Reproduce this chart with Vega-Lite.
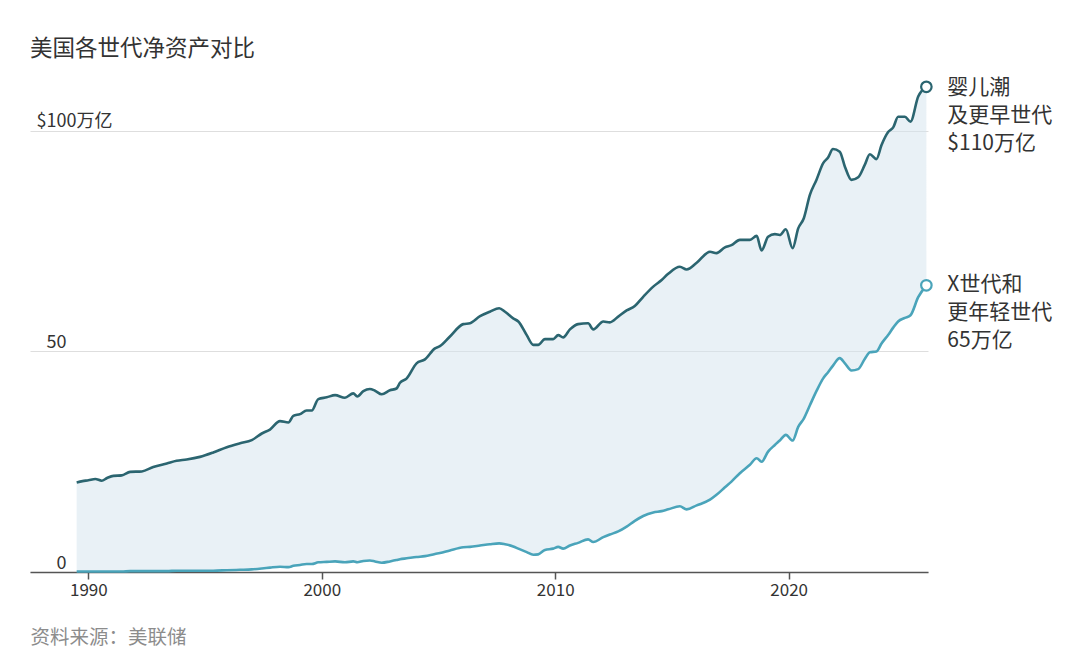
{
  "$schema": "https://vega.github.io/schema/vega-lite/v6.json",
  "autosize": {"type": "none"},
  "width": 898,
  "height": 494,
  "padding": {"left": 30, "top": 78, "right": 152, "bottom": 93},
  "background": "#ffffff",
  "config": {
    "font": "Noto Sans CJK SC",
    "view": {"stroke": null}
  },
  "title": {
    "text": "美国各世代净资产对比",
    "anchor": "start",
    "frame": "group",
    "fontSize": 22.5,
    "fontWeight": "normal",
    "color": "#333333",
    "offset": 16
  },
  "data": {
    "values": [
      {"t": 1989.5, "boomer": 20.3, "genx": 0.1},
      {"t": 1989.75, "boomer": 20.6, "genx": 0.1},
      {"t": 1990.0, "boomer": 20.8, "genx": 0.1},
      {"t": 1990.3, "boomer": 21.1, "genx": 0.1},
      {"t": 1990.57, "boomer": 20.7, "genx": 0.1},
      {"t": 1990.8, "boomer": 21.3, "genx": 0.1},
      {"t": 1991.07, "boomer": 21.8, "genx": 0.1},
      {"t": 1991.43, "boomer": 21.9, "genx": 0.1},
      {"t": 1991.79, "boomer": 22.7, "genx": 0.2},
      {"t": 1992.29, "boomer": 22.8, "genx": 0.2},
      {"t": 1992.78, "boomer": 23.8, "genx": 0.2},
      {"t": 1993.36, "boomer": 24.6, "genx": 0.2},
      {"t": 1993.78, "boomer": 25.2, "genx": 0.3},
      {"t": 1994.21, "boomer": 25.5, "genx": 0.3},
      {"t": 1994.78, "boomer": 26.1, "genx": 0.3},
      {"t": 1995.35, "boomer": 27.1, "genx": 0.3},
      {"t": 1995.93, "boomer": 28.3, "genx": 0.4},
      {"t": 1996.5, "boomer": 29.2, "genx": 0.5},
      {"t": 1997.0, "boomer": 29.9, "genx": 0.6},
      {"t": 1997.43, "boomer": 31.4, "genx": 0.8},
      {"t": 1997.78, "boomer": 32.3, "genx": 1.0},
      {"t": 1998.21, "boomer": 34.2, "genx": 1.2},
      {"t": 1998.57, "boomer": 33.9, "genx": 1.1},
      {"t": 1998.78, "boomer": 35.4, "genx": 1.4},
      {"t": 1999.07, "boomer": 35.8, "genx": 1.6},
      {"t": 1999.35, "boomer": 36.6, "genx": 1.8},
      {"t": 1999.57, "boomer": 36.6, "genx": 1.8},
      {"t": 1999.85, "boomer": 39.2, "genx": 2.2},
      {"t": 2000.21, "boomer": 39.6, "genx": 2.3},
      {"t": 2000.57, "boomer": 40.1, "genx": 2.4},
      {"t": 2000.99, "boomer": 39.5, "genx": 2.2},
      {"t": 2001.35, "boomer": 40.5, "genx": 2.4},
      {"t": 2001.52, "boomer": 39.8, "genx": 2.2},
      {"t": 2001.78, "boomer": 41.0, "genx": 2.5},
      {"t": 2002.06, "boomer": 41.5, "genx": 2.6},
      {"t": 2002.28, "boomer": 41.1, "genx": 2.4},
      {"t": 2002.57, "boomer": 40.3, "genx": 2.1},
      {"t": 2002.92, "boomer": 41.2, "genx": 2.4},
      {"t": 2003.2, "boomer": 41.6, "genx": 2.7},
      {"t": 2003.35, "boomer": 42.9, "genx": 2.9},
      {"t": 2003.64, "boomer": 43.9, "genx": 3.1},
      {"t": 2004.06, "boomer": 47.3, "genx": 3.4},
      {"t": 2004.42, "boomer": 48.2, "genx": 3.6},
      {"t": 2004.85, "boomer": 50.7, "genx": 4.1},
      {"t": 2005.06, "boomer": 51.2, "genx": 4.3},
      {"t": 2005.49, "boomer": 53.4, "genx": 4.9},
      {"t": 2006.06, "boomer": 56.2, "genx": 5.6},
      {"t": 2006.35, "boomer": 56.4, "genx": 5.7},
      {"t": 2006.78, "boomer": 58.0, "genx": 6.0},
      {"t": 2007.2, "boomer": 59.0, "genx": 6.3},
      {"t": 2007.6, "boomer": 59.8, "genx": 6.5},
      {"t": 2007.85, "boomer": 59.0, "genx": 6.3},
      {"t": 2008.2, "boomer": 57.5, "genx": 5.8},
      {"t": 2008.42, "boomer": 56.8, "genx": 5.3},
      {"t": 2008.78, "boomer": 53.7, "genx": 4.5},
      {"t": 2009.06, "boomer": 51.5, "genx": 3.9},
      {"t": 2009.27, "boomer": 51.5, "genx": 4.0},
      {"t": 2009.56, "boomer": 52.8, "genx": 5.0},
      {"t": 2009.91, "boomer": 52.8, "genx": 5.3},
      {"t": 2010.13, "boomer": 53.7, "genx": 5.7},
      {"t": 2010.34, "boomer": 53.2, "genx": 5.3},
      {"t": 2010.63, "boomer": 55.0, "genx": 6.0},
      {"t": 2010.98, "boomer": 56.2, "genx": 6.6},
      {"t": 2011.41, "boomer": 56.4, "genx": 7.4},
      {"t": 2011.63, "boomer": 55.0, "genx": 6.8},
      {"t": 2012.06, "boomer": 56.8, "genx": 7.9},
      {"t": 2012.34, "boomer": 56.6, "genx": 8.5},
      {"t": 2012.7, "boomer": 57.9, "genx": 9.2},
      {"t": 2013.06, "boomer": 59.3, "genx": 10.3},
      {"t": 2013.41, "boomer": 60.3, "genx": 11.6},
      {"t": 2013.77, "boomer": 62.4, "genx": 12.7},
      {"t": 2014.2, "boomer": 64.7, "genx": 13.5},
      {"t": 2014.56, "boomer": 66.2, "genx": 13.8},
      {"t": 2014.84, "boomer": 67.6, "genx": 14.2},
      {"t": 2015.34, "boomer": 69.2, "genx": 14.9},
      {"t": 2015.63, "boomer": 68.6, "genx": 14.2},
      {"t": 2016.06, "boomer": 70.1, "genx": 15.1},
      {"t": 2016.63, "boomer": 72.6, "genx": 16.4},
      {"t": 2016.91, "boomer": 72.3, "genx": 17.5},
      {"t": 2017.27, "boomer": 73.6, "genx": 19.2},
      {"t": 2017.55, "boomer": 74.1, "genx": 20.5},
      {"t": 2017.91, "boomer": 75.3, "genx": 22.4},
      {"t": 2018.34, "boomer": 75.3, "genx": 24.3},
      {"t": 2018.63, "boomer": 76.2, "genx": 25.8},
      {"t": 2018.84, "boomer": 72.9, "genx": 25.0},
      {"t": 2019.12, "boomer": 76.0, "genx": 27.3},
      {"t": 2019.41, "boomer": 76.6, "genx": 28.8},
      {"t": 2019.62, "boomer": 76.4, "genx": 29.8},
      {"t": 2019.88, "boomer": 77.7, "genx": 31.1},
      {"t": 2020.17, "boomer": 73.4, "genx": 29.8},
      {"t": 2020.41, "boomer": 77.9, "genx": 32.9},
      {"t": 2020.65, "boomer": 80.2, "genx": 34.8},
      {"t": 2020.91, "boomer": 85.5, "genx": 37.8},
      {"t": 2021.19, "boomer": 88.9, "genx": 41.0},
      {"t": 2021.48, "boomer": 92.7, "genx": 43.9},
      {"t": 2021.69, "boomer": 94.0, "genx": 45.3},
      {"t": 2021.9, "boomer": 95.9, "genx": 46.8},
      {"t": 2022.19, "boomer": 95.3, "genx": 48.5},
      {"t": 2022.41, "boomer": 91.9, "genx": 47.3},
      {"t": 2022.69, "boomer": 88.9, "genx": 45.7},
      {"t": 2022.98, "boomer": 89.5, "genx": 46.0},
      {"t": 2023.26, "boomer": 92.3, "genx": 48.3},
      {"t": 2023.48, "boomer": 94.7, "genx": 49.8},
      {"t": 2023.76, "boomer": 93.6, "genx": 50.0},
      {"t": 2023.98, "boomer": 96.8, "genx": 51.8},
      {"t": 2024.27, "boomer": 99.8, "genx": 53.8},
      {"t": 2024.48, "boomer": 100.8, "genx": 55.4},
      {"t": 2024.69, "boomer": 103.2, "genx": 56.8},
      {"t": 2024.98, "boomer": 103.2, "genx": 57.6},
      {"t": 2025.22, "boomer": 102.1, "genx": 58.2},
      {"t": 2025.55, "boomer": 107.8, "genx": 62.3},
      {"t": 2025.9, "boomer": 110.0, "genx": 65.0}
    ]
  },
  "encoding": {
    "x": {
      "field": "t",
      "type": "quantitative",
      "scale": {"domain": [1987.5, 2025.97], "nice": false, "zero": false},
      "axis": {
        "values": [1990, 2000, 2010, 2020],
        "format": "d",
        "grid": false,
        "domainColor": "#555555",
        "domainWidth": 1.5,
        "tickColor": "#555555",
        "tickWidth": 1.5,
        "tickSize": 7,
        "labelFontSize": 17,
        "labelColor": "#333333",
        "labelPadding": 3,
        "title": "资料来源：美联储",
        "titleAnchor": "start",
        "titleAlign": "left",
        "titleX": 0,
        "titleY": 65,
        "titleBaseline": "middle",
        "titleFontSize": 19.5,
        "titleFontWeight": "normal",
        "titleColor": "#8c8c8c"
      }
    }
  },
  "layer": [
    {
      "mark": {"type": "area", "interpolate": "monotone", "color": "#d3e4ed", "opacity": 0.5},
      "encoding": {
        "y": {
          "field": "boomer",
          "type": "quantitative",
          "scale": {"domain": [0, 112], "nice": false},
          "axis": {
            "values": [0, 50, 100],
            "labelExpr": "datum.value == 100 ? '$100万亿' : datum.label",
            "domain": false,
            "ticks": false,
            "tickSize": 0,
            "gridColor": "#dedede",
            "gridWidth": 1,
            "labelAlign": "right",
            "labelBaseline": "alphabetic",
            "labelOffset": -4,
            "labelPadding": {"condition": {"test": "datum.value == 100", "value": -82}, "value": -36},
            "labelFontSize": 18,
            "labelColor": "#333333",
            "title": null
          }
        },
        "y2": {"field": "genx"}
      }
    },
    {
      "mark": {"type": "line", "interpolate": "monotone", "color": "#2b6570", "strokeWidth": 2.6},
      "encoding": {"y": {"field": "boomer", "type": "quantitative"}}
    },
    {
      "mark": {"type": "line", "interpolate": "monotone", "color": "#4aa4ba", "strokeWidth": 2.6},
      "encoding": {"y": {"field": "genx", "type": "quantitative"}}
    },
    {
      "transform": [{"filter": "datum.t == 2025.9"}],
      "mark": {"type": "point", "filled": true, "fill": "#ffffff", "stroke": "#2b6570", "strokeWidth": 2.2, "size": 110, "opacity": 1},
      "encoding": {"y": {"field": "boomer", "type": "quantitative"}}
    },
    {
      "transform": [{"filter": "datum.t == 2025.9"}],
      "mark": {"type": "point", "filled": true, "fill": "#ffffff", "stroke": "#4aa4ba", "strokeWidth": 2.2, "size": 110, "opacity": 1},
      "encoding": {"y": {"field": "genx", "type": "quantitative"}}
    },
    {
      "transform": [
        {"filter": "datum.t == 2025.9"},
        {"calculate": "'婴儿潮\\n及更早世代\\n$' + format(datum.boomer, 'd') + '万亿'", "as": "label"}
      ],
      "mark": {"type": "text", "align": "left", "baseline": "top", "dx": 21, "dy": -10, "fontSize": 21, "lineHeight": 28, "lineBreak": "\n", "color": "#333333"},
      "encoding": {"y": {"field": "boomer", "type": "quantitative"}, "text": {"field": "label"}}
    },
    {
      "transform": [
        {"filter": "datum.t == 2025.9"},
        {"calculate": "'X世代和\\n更年轻世代\\n' + format(datum.genx, 'd') + '万亿'", "as": "label"}
      ],
      "mark": {"type": "text", "align": "left", "baseline": "top", "dx": 21, "dy": -11, "fontSize": 21, "lineHeight": 28, "lineBreak": "\n", "color": "#333333"},
      "encoding": {"y": {"field": "genx", "type": "quantitative"}, "text": {"field": "label"}}
    }
  ]
}
